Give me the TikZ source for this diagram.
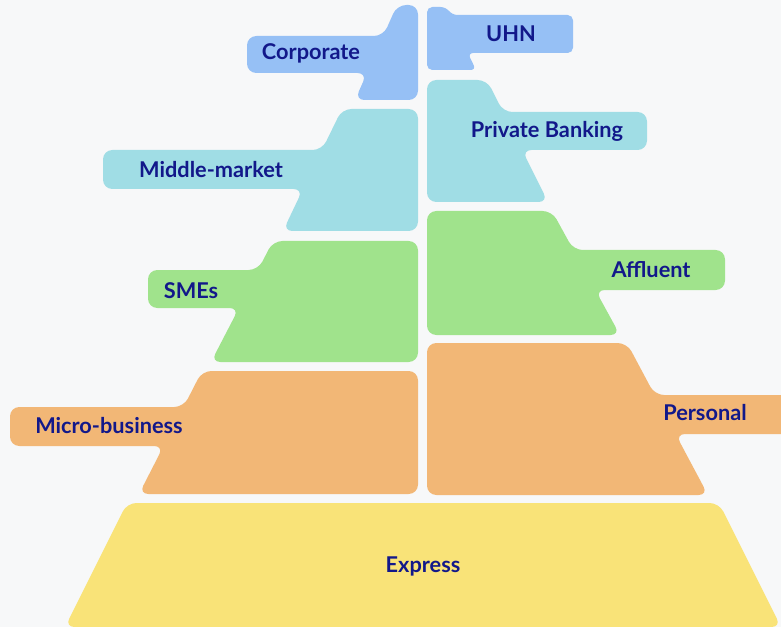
\documentclass[tikz,border=0pt]{standalone}
\usepackage{fontspec}
\setmainfont{Lato}
\definecolor{bg}{RGB}{247,248,249}
\definecolor{cblue}{RGB}{150,192,245}
\definecolor{cteal}{RGB}{160,221,229}
\definecolor{cgreen}{RGB}{160,227,140}
\definecolor{corange}{RGB}{242,183,118}
\definecolor{cyellow}{RGB}{249,227,120}
\definecolor{navy}{RGB}{18,24,138}
\begin{document}
\begin{tikzpicture}[x=0.75pt,y=-0.75pt,
  tier/.style={rounded corners=7pt},
  lbl/.style={font=\bfseries\fontsize{16.3}{18}\selectfont, text=navy, inner sep=0pt}]
\useasboundingbox (0,0) rectangle (781,627);
\fill[bg] (0,0) rectangle (781,627);
% left tiers
\fill[cblue, tier] (247,36) -- (383.3,36) -- (397,5) -- (418,5) -- (418,100) -- (355,100) -- (367,73) -- (247,73) -- cycle;
\fill[cteal, tier] (103,150) -- (322,150) -- (342,109) -- (418,109) -- (418,231) -- (283,231) -- (303,189) -- (103,189) -- cycle;
\fill[cgreen, tier] (148,270) -- (258,270) -- (273,241) -- (418,241) -- (418,362) -- (211,362) -- (239,308) -- (148,308) -- cycle;
\fill[corange, tier] (10,407) -- (183.6,407) -- (202,371) -- (418,371) -- (418,494) -- (139,494) -- (163.6,446) -- (10,446) -- cycle;
% right tiers
\fill[cblue, rounded corners=4pt] (427,7) -- (446,7) -- (452,15) -- (573,15) -- (573,53) -- (467.8,53) -- (476,70) -- (427,70) -- cycle;
\fill[cteal, tier] (427,80) -- (487,80) -- (503,112) -- (647,112) -- (647,150) -- (522,150) -- (548,202) -- (427,202) -- cycle;
\fill[cgreen, tier] (427,211) -- (552,211) -- (573.4,250) -- (725,250) -- (725,290) -- (595.3,290) -- (620,335) -- (427,335) -- cycle;
\fill[corange, tier] (427,343) -- (627,343) -- (654.7,395) -- (800,395) -- (800,434) -- (675.5,434) -- (708,495) -- (427,495) -- cycle;
% base
\fill[cyellow, tier] (127,503) -- (719,503) -- (781,627) -- (65,627) -- cycle;
% labels
\node[lbl] (corp) at (311,53) {Corporate};
\node[lbl] (uhn) at (511,34) {UHN};
\node[lbl] (mid) at (211,170) {Middle-market};
\node[lbl] (pb) at (547,131) {Private Banking};
\node[lbl] (sme) at (191,291) {SMEs};
\node[lbl] (aff) at (651,270) {Affluent};
\node[lbl] (micro) at (109,426) {Micro-business};
\node[lbl] (pers) at (705,413) {Personal};
\node[lbl] (exp) at (423,566) {Express};
\end{tikzpicture}
\end{document}
